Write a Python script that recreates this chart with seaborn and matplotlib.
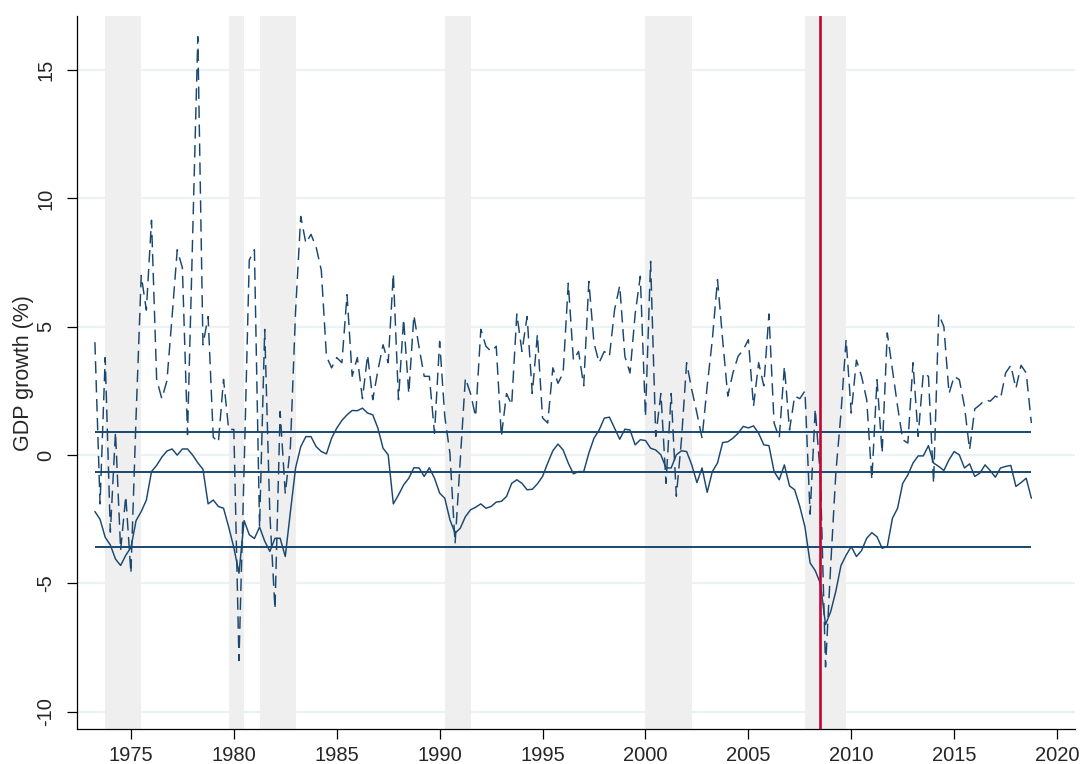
import numpy as np
import pandas as pd
import matplotlib
matplotlib.use("Agg")
import matplotlib.pyplot as plt
import seaborn as sns

# ---------------- data ----------------
start_year = 1973.25
gdp_growth = [
    4.4, -1.9, 3.8, -3.0, 0.9, -3.7, -1.6, -4.6, 1.5,
    7.0, 5.65, 9.15, 2.95, 2.2, 2.9, 5.4, 8.0, 7.3, 0.8,
    8.5, 16.3, 4.3, 5.4, 0.7, 0.5, 2.95, 1.0, 1.0, -8.0, -0.5, 7.6, 8.0,
    -2.8, 4.9, -2.3, -6.0, 1.7, -1.5, 0.35, 5.6,
    9.3, 8.26, 8.6, 8.1, 7.2, 3.85, 3.4, 3.8, 3.6, 6.25, 3.07, 3.8, 2.2, 3.9, 2.16,
    3.3, 4.3, 3.6, 7.07, 2.16, 5.3, 2.4, 5.45, 4.2, 3.07, 3.07, 0.85, 4.43, 1.5, 0.07,
    -3.44,
    -0.2, 3.0, 2.4, 1.5, 4.9, 4.24, 4.04, 4.24, 0.73, 2.4, 1.96, 5.5, 4.04, 5.4, 2.4,
    4.7, 1.45, 1.25, 3.4, 2.8, 3.2, 6.7, 3.7, 4.04, 2.7, 6.77, 4.36, 3.6, 4.04, 3.85,
    5.67, 6.6, 3.85, 3.2, 5.5, 6.97, 1.5, 7.55, 0.73, 2.4, -1.1, 2.4, -1.6, 0.6, 3.6,
    2.55, 1.64, 0.66, 2.7, 4.5, 6.84,
    4.5, 2.3, 3.2, 3.85, 4.1, 4.5, 1.9, 3.6, 2.7, 5.5, 1.25, 0.66, 3.45, 0.98, 2.3,
    2.2, 2.5, -2.3, 1.8, -0.83, -8.25, -4.3, -0.7, 1.64, 4.5, 1.64, 3.7, 3.07, 2.16,
    -0.96, 2.94, 0.08, 4.76, 3.33, 1.9, 0.6, 0.47, 3.6, 0.73, 3.2, 3.07, -1.1, 5.5,
    5.0, 2.4, 3.07, 2.94, 1.9, 0.21, 1.8, 1.96, 2.16, 2.1, 2.3, 2.2, 3.2, 3.5, 2.6,
    3.5, 3.2, 1.25,
]
lower_quantile = [
    -2.2, -2.5, -3.2, -3.5, -4.05, -4.3, -3.9, -3.6, -2.55, -2.2, -1.75, -0.64, -0.4,
    -0.08, 0.16, 0.24, 0.0, 0.24, 0.24, 0.0, -0.3, -0.55, -1.9, -1.75, -2.0, -2.07,
    -2.8, -3.6, -4.6, -2.55, -3.1, -3.25, -2.8, -3.35, -3.75,
    -3.24, -3.24, -3.95, -2.2, -0.5, 0.33, 0.72, 0.72, 0.33, 0.14, 0.05, 0.66, 1.05,
    1.35, 1.57, 1.74, 1.73, 1.83, 1.64, 1.57, 1.05, 0.27, 0.01, -1.9, -1.55, -1.16,
    -0.9, -0.49, -0.5, -0.83, -0.49, -0.9, -1.48, -1.68, -2.52, -3.04, -2.85, -2.4,
    -2.13, -2.03, -1.9, -2.07, -2.0, -1.83, -1.8, -1.61, -1.1, -0.96, -1.1, -1.35,
    -1.33, -1.12, -0.83, -0.31, 0.17, 0.43, 0.2, -0.31, -0.73, -0.64, -0.64, 0.08,
    0.66, 0.98, 1.44, 1.48, 1.05, 0.62, 1.01, 0.98, 0.4, 0.6, 0.57, 0.27, 0.2, 0.01,
    -0.5, -0.5, 0.01, 0.17, 0.14, -0.38, -1.07, -0.5, -1.45, -0.64, -0.31, 0.49,
    0.52, 0.66, 0.85,
    1.12, 1.06, 1.14, 0.85, 0.4, 0.37, -0.64, -0.96, -0.38, -1.2, -1.35, -2.0, -2.8,
    -4.2, -4.5, -5.0, -6.6, -6.1, -5.3, -4.3, -3.9, -3.56, -3.95, -3.72, -3.24, -3.02,
    -3.18, -3.63, -3.56, -2.46, -2.07, -1.1, -0.77, -0.31, -0.03, -0.03, 0.37, -0.31,
    -0.44, -0.6, -0.18, 0.14, 0.01, -0.5, -0.34, -0.83, -0.7, -0.38, -0.6, -0.86,
    -0.5, -0.44, -0.4, -1.22, -1.07, -0.9, -1.68,
]
reference_levels = [0.9, -0.65, -3.58]
recession_starts = [1973.75, 1979.75, 1981.25, 1990.25, 2000.0, 2007.75]
recession_ends = [1975.5, 1980.5, 1983.0, 1991.5, 2002.25, 2009.75]
event_date = 2008.5
x_ticks = [1975, 1980, 1985, 1990, 1995, 2000, 2005, 2010, 2015, 2020]
y_ticks = [-10, -5, 0, 5, 10, 15]

n = len(gdp_growth)
dates = start_year + np.arange(n) / 4.0
df = pd.DataFrame({"date": dates, "growth": gdp_growth, "lower": lower_quantile})

# ---------------- style ----------------
sns.set_style("white")
plt.rcParams["font.family"] = ["Liberation Sans", "DejaVu Sans"]

navy = "#1a476f"
fig = plt.figure(figsize=(10.83, 7.64), dpi=100)
ax = fig.add_axes([0.0711, 0.0458, 0.9215, 0.933])

# grid
for yt in y_ticks:
    ax.axhline(yt, color="#eaf2f3", lw=1.6, zorder=0)

# recession bands
for s, e in zip(recession_starts, recession_ends):
    ax.axvspan(s, e, color="#efefef", lw=0, zorder=1)

# reference horizontal lines
for lev in reference_levels:
    ax.hlines(lev, dates[0], dates[-1], color=navy, lw=1.4, zorder=3)

sns.lineplot(data=df, x="date", y="growth", ax=ax, color=navy, lw=1.05,
             linestyle=(0, (8.5, 4.5)), zorder=4)
sns.lineplot(data=df, x="date", y="lower", ax=ax, color=navy, lw=1.05, zorder=4)

ax.axvline(event_date, color="#c10534", lw=1.9, zorder=5)

ax.set_xlim(1972.38, 2020.87)
ax.set_ylim(-10.67, 17.1)
ax.set_xticks(x_ticks)
ax.set_yticks(y_ticks)
ax.set_xticklabels([str(t) for t in x_ticks], fontsize=14.5)
ax.set_yticklabels([str(t) for t in y_ticks], fontsize=14.5, rotation=90, va="center")
ax.set_xlabel("")
ax.set_ylabel("GDP growth (%)", fontsize=15.5, labelpad=2)
ax.tick_params(axis="both", direction="out", length=7.5, width=0.9, color="black",
               bottom=True, left=True)
ax.tick_params(axis="x", pad=5)
ax.tick_params(axis="y", pad=8)

for side in ["top", "right"]:
    ax.spines[side].set_visible(False)
for side in ["left", "bottom"]:
    ax.spines[side].set_color("black")
    ax.spines[side].set_linewidth(0.9)

fig.savefig("out.png", dpi=100, facecolor="white")
